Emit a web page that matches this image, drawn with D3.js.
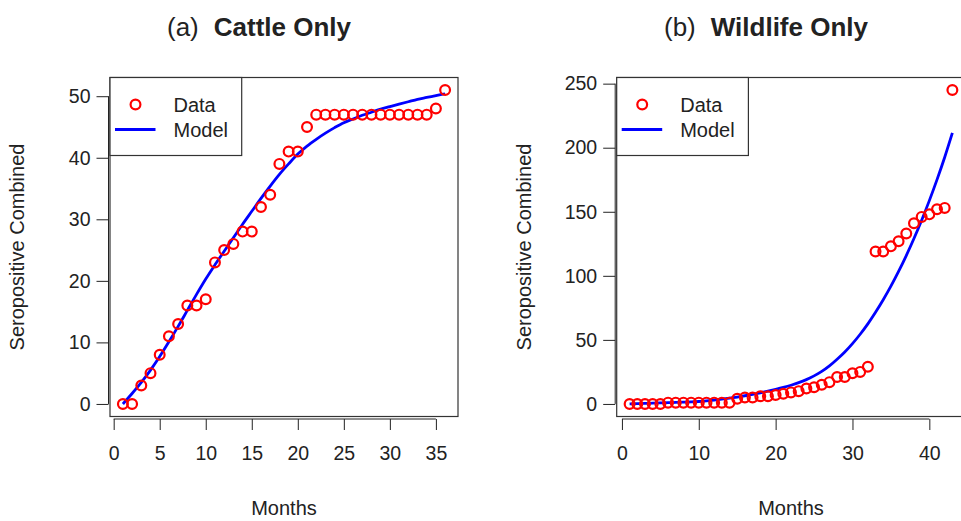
<!DOCTYPE html>
<html><head><meta charset="utf-8">
<script src="https://cdn.jsdelivr.net/npm/d3@7"></script>
<style>
body{margin:0;background:#fff;}
svg text{font-family:"Liberation Sans",Arial,Helvetica,sans-serif;fill:#222;}
</style></head>
<body><svg id="c" width="961" height="521"></svg>
<script>
// ---- data ----
const cattleMonths = d3.range(1, 37);
const cattleData = [0,0,3,5,8,11,13,16,16,17,23,25,26,28,28,32,34,39,41,41,45,47,47,47,47,47,47,47,47,47,47,47,47,47,48,51];
const cattleModel = [0,1.7,3.5,5.5,7.7,10.1,12.6,15.2,17.8,20.3,22.6,24.8,27.0,29.2,31.3,33.4,35.4,37.3,39.0,40.6,41.9,43.0,44.0,44.9,45.7,46.3,46.9,47.4,47.9,48.3,48.7,49.1,49.5,49.8,50.1,50.4];
const wildMonths = d3.range(1, 44);
const wildData = [0,0,0,0,0,1,1,1,1,1,1,1,1,1,4,5,5,6,6,7,8,9,10,12,13,15,17,21,21,24,25,29,119,119,123,127,133,141,146,148,152,153,245];
const wildModel = [0,0.2,0.4,0.6,0.8,1.0,1.2,1.4,1.6,1.9,2.4,3.0,3.7,4.5,5.4,6.4,7.5,8.7,10.0,11.4,12.9,14.6,16.6,19.0,21.9,25.4,29.7,34.9,40.6,47.1,54.4,62.5,71.5,81.3,91.9,103.4,115.8,129.1,143.4,158.7,175.1,192.6,211.6];
const cattleXTicks = [0,5,10,15,20,25,30,35];
const cattleYTicks = [0,10,20,30,40,50];
const wildXTicks = [0,10,20,30,40];
const wildYTicks = [0,50,100,150,200,250];
const legendLabels = ["Data","Model"];
const titles = [["(a)","Cattle Only"],["(b)","Wildlife Only"]];
const xTitle = "Months", yTitle = "Seropositive Combined";

const svg = d3.select("#c");

function panel(cfg){
  const {x0,x1,y0,y1,xDom,yDom,months,data,model,xt,yt,title} = cfg;
  const x = d3.scaleLinear().domain(xDom).range([x0,x1]);
  const y = d3.scaleLinear().domain(yDom).range([y1,y0]);
  const g = svg.append("g");
  const fs = 19.5;
  // x axis
  const xa = g.append("g").attr("transform",`translate(0,${y1+2.5})`)
    .call(d3.axisBottom(x).tickValues(xt).tickSize(11).tickPadding(16).tickSizeOuter(0));
  xa.select(".domain").remove();
  xa.append("line").attr("x1",x(xt[0])).attr("x2",x(xt[xt.length-1])).attr("stroke","#222");
  xa.selectAll(".tick line").attr("stroke","#222");
  xa.selectAll(".tick text").attr("font-size",fs).style("fill","#222").attr("font-family","Liberation Sans, Arial, sans-serif");
  // y axis
  const ya = g.append("g").attr("transform",`translate(${x0-1.5},0)`)
    .call(d3.axisLeft(y).tickValues(yt).tickSize(12).tickPadding(6).tickSizeOuter(0));
  ya.select(".domain").remove();
  ya.append("line").attr("y1",y(yt[0])).attr("y2",y(yt[yt.length-1])).attr("stroke","#222");
  ya.selectAll(".tick line").attr("stroke","#222");
  ya.selectAll(".tick text").attr("font-size",fs).style("fill","#222").attr("font-family","Liberation Sans, Arial, sans-serif");
  // box
  g.append("rect").attr("x",x0).attr("y",y0).attr("width",x1-x0).attr("height",y1-y0)
    .attr("fill","none").attr("stroke","#333").attr("stroke-width",1.2);
  // model line
  const pts = months.map((m,i)=>[m,model[i]]);
  g.append("path").datum(pts).attr("fill","none").attr("stroke","#0000FF").attr("stroke-width",2.8)
    .attr("d",d3.line().x(d=>x(d[0])).y(d=>y(d[1])).curve(d3.curveMonotoneX));
  // data points
  g.selectAll("circle.pt").data(months.map((m,i)=>[m,data[i]])).enter().append("circle")
    .attr("cx",d=>x(d[0])).attr("cy",d=>y(d[1])).attr("r",4.9)
    .attr("fill","none").attr("stroke","#FF0000").attr("stroke-width",2.2);
  // legend
  const lw = 131.7, lh = 78;
  g.append("rect").attr("x",x0).attr("y",y0).attr("width",lw).attr("height",lh)
    .attr("fill","#fff").attr("stroke","#333").attr("stroke-width",1.2);
  g.append("circle").attr("cx",x0+25.5).attr("cy",y0+27).attr("r",4.9)
    .attr("fill","none").attr("stroke","#FF0000").attr("stroke-width",2.2);
  g.append("line").attr("x1",x0+5).attr("x2",x0+45.5).attr("y1",y0+52).attr("y2",y0+52)
    .attr("stroke","#0000FF").attr("stroke-width",2.8);
  legendLabels.forEach((t,i)=>{
    g.append("text").attr("x",x0+63.5).attr("y",y0+27+i*25).attr("dy","0.35em")
      .attr("font-size",20).text(t);
  });
  // axis titles
  g.append("text").attr("x",(x0+x1)/2).attr("y",515).attr("text-anchor","middle")
    .attr("font-size",20).text(xTitle);
  const cy = (y0+y1)/2;
  g.append("text").attr("transform",`translate(${x0-86},${cy}) rotate(-90)`).attr("text-anchor","middle")
    .attr("font-size",20).text(yTitle);
  // main title
  const tt = g.append("text").attr("x",(x0+x1)/2-25).attr("y",36).attr("text-anchor","middle").attr("font-size",26);
  tt.append("tspan").text(title[0]);
  tt.append("tspan").attr("dx",15).attr("font-weight","bold").text(title[1]);
}

panel({x0:110,x1:458,y0:77.5,y1:416.5,xDom:[-0.4,37.4],yDom:[-2.04,53.04],
  months:cattleMonths,data:cattleData,model:cattleModel,xt:cattleXTicks,yt:cattleYTicks,title:titles[0]});
panel({x0:616.7,x1:965.3,y0:77.5,y1:416.5,xDom:[-0.68,44.68],yDom:[-9.8,254.8],
  months:wildMonths,data:wildData,model:wildModel,xt:wildXTicks,yt:wildYTicks,title:titles[1]});
</script></body></html>
